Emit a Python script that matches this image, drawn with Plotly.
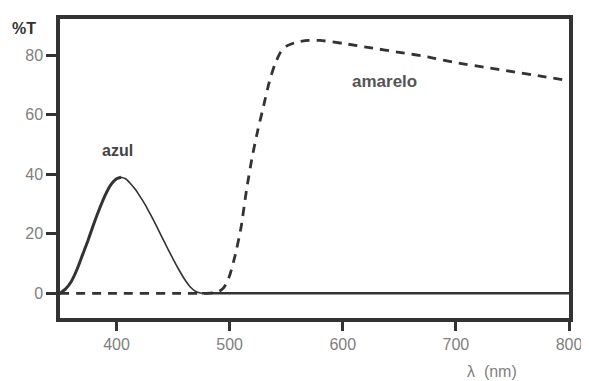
import plotly.graph_objects as go

# Data
azul_wl = [350, 355, 360, 365, 370, 375, 380, 385, 390, 395, 400, 404, 408, 412, 416, 420, 425, 430, 435, 440, 445, 450, 455, 460, 465, 470, 475, 480, 500, 600, 700, 800]
azul_t = [0, 1.5, 4, 8, 13, 18, 23.5, 28.5, 33, 36.5, 38.5, 39, 38.5, 37, 35.2, 33, 30, 26.5, 22.8, 19, 15.2, 11.5, 8, 4.8, 2.2, 0.6, 0, 0, 0, 0, 0, 0]
amarelo_wl = [350, 400, 450, 480, 490, 495, 500, 505, 510, 515, 520, 525, 530, 535, 540, 545, 550, 560, 570, 580, 600, 625, 650, 675, 700, 725, 750, 775, 800]
amarelo_t = [0, 0, 0, 0, 0.5, 2, 6, 13, 22, 35, 46, 55, 63, 71, 77, 81, 83, 84.5, 85, 85, 84, 82.5, 81, 79.5, 77.5, 76, 74.5, 73, 71.5]
x_ticks = [400, 500, 600, 700, 800]
y_ticks = [0, 20, 40, 60, 80]

line_col = "#333333"
fig = go.Figure()
peak = azul_t.index(max(azul_t))
flat = azul_wl.index(475)
fig.add_trace(go.Scatter(x=amarelo_wl, y=amarelo_t, mode="lines",
                         line=dict(color=line_col, width=2.8, dash="9px,7px", shape="spline", smoothing=0.6),
                         showlegend=False))
fig.add_trace(go.Scatter(x=azul_wl[:peak + 1], y=azul_t[:peak + 1], mode="lines",
                         line=dict(color=line_col, width=3, shape="spline", smoothing=0.6), showlegend=False))
fig.add_trace(go.Scatter(x=azul_wl[peak:flat + 1], y=azul_t[peak:flat + 1], mode="lines",
                         line=dict(color=line_col, width=1.6, shape="spline", smoothing=0.6), showlegend=False))
fig.add_trace(go.Scatter(x=azul_wl[flat:], y=azul_t[flat:], mode="lines",
                         line=dict(color=line_col, width=2.6), showlegend=False))

tick_font = dict(family="Liberation Sans, Arial, sans-serif", size=16, color="#808080")
fig.update_layout(
    width=581, height=373,
    margin=dict(l=52, r=16, t=7, b=63),
    paper_bgcolor="white", plot_bgcolor="white",
    xaxis=dict(range=[350, 800], tickvals=x_ticks, ticks="outside", ticklen=9, tickwidth=2.5, tickcolor=line_col,
               showline=True, linewidth=3.5, linecolor=line_col, mirror=True, showgrid=False, zeroline=False,
               tickfont=tick_font),
    yaxis=dict(range=[-8.3, 92.2], tickvals=y_ticks, ticks="outside", ticklen=10, tickwidth=2.5, tickcolor=line_col,
               showline=True, linewidth=3.5, linecolor=line_col, mirror=True, showgrid=False, zeroline=False,
               tickfont=tick_font),
    font=dict(family="Liberation Sans, Arial, sans-serif"),
    annotations=[
        dict(text="<b>%T</b>", xref="paper", yref="paper", x=-0.071, y=0.969, xanchor="center", yanchor="middle",
             showarrow=False, font=dict(size=16, color="#333333")),
        dict(text="<b>azul</b>", x=401, y=47.9, showarrow=False, font=dict(size=16, color="#444444")),
        dict(text="<b>amarelo</b>", x=636.5, y=71.1, showarrow=False, font=dict(size=17, color="#555555")),
        dict(text="λ  (nm)", xref="paper", yref="paper", x=0.848, y=-0.18, xanchor="center", yanchor="middle",
             showarrow=False, font=dict(size=16, color="#808080")),
    ],
)
fig.write_html("out.html")
